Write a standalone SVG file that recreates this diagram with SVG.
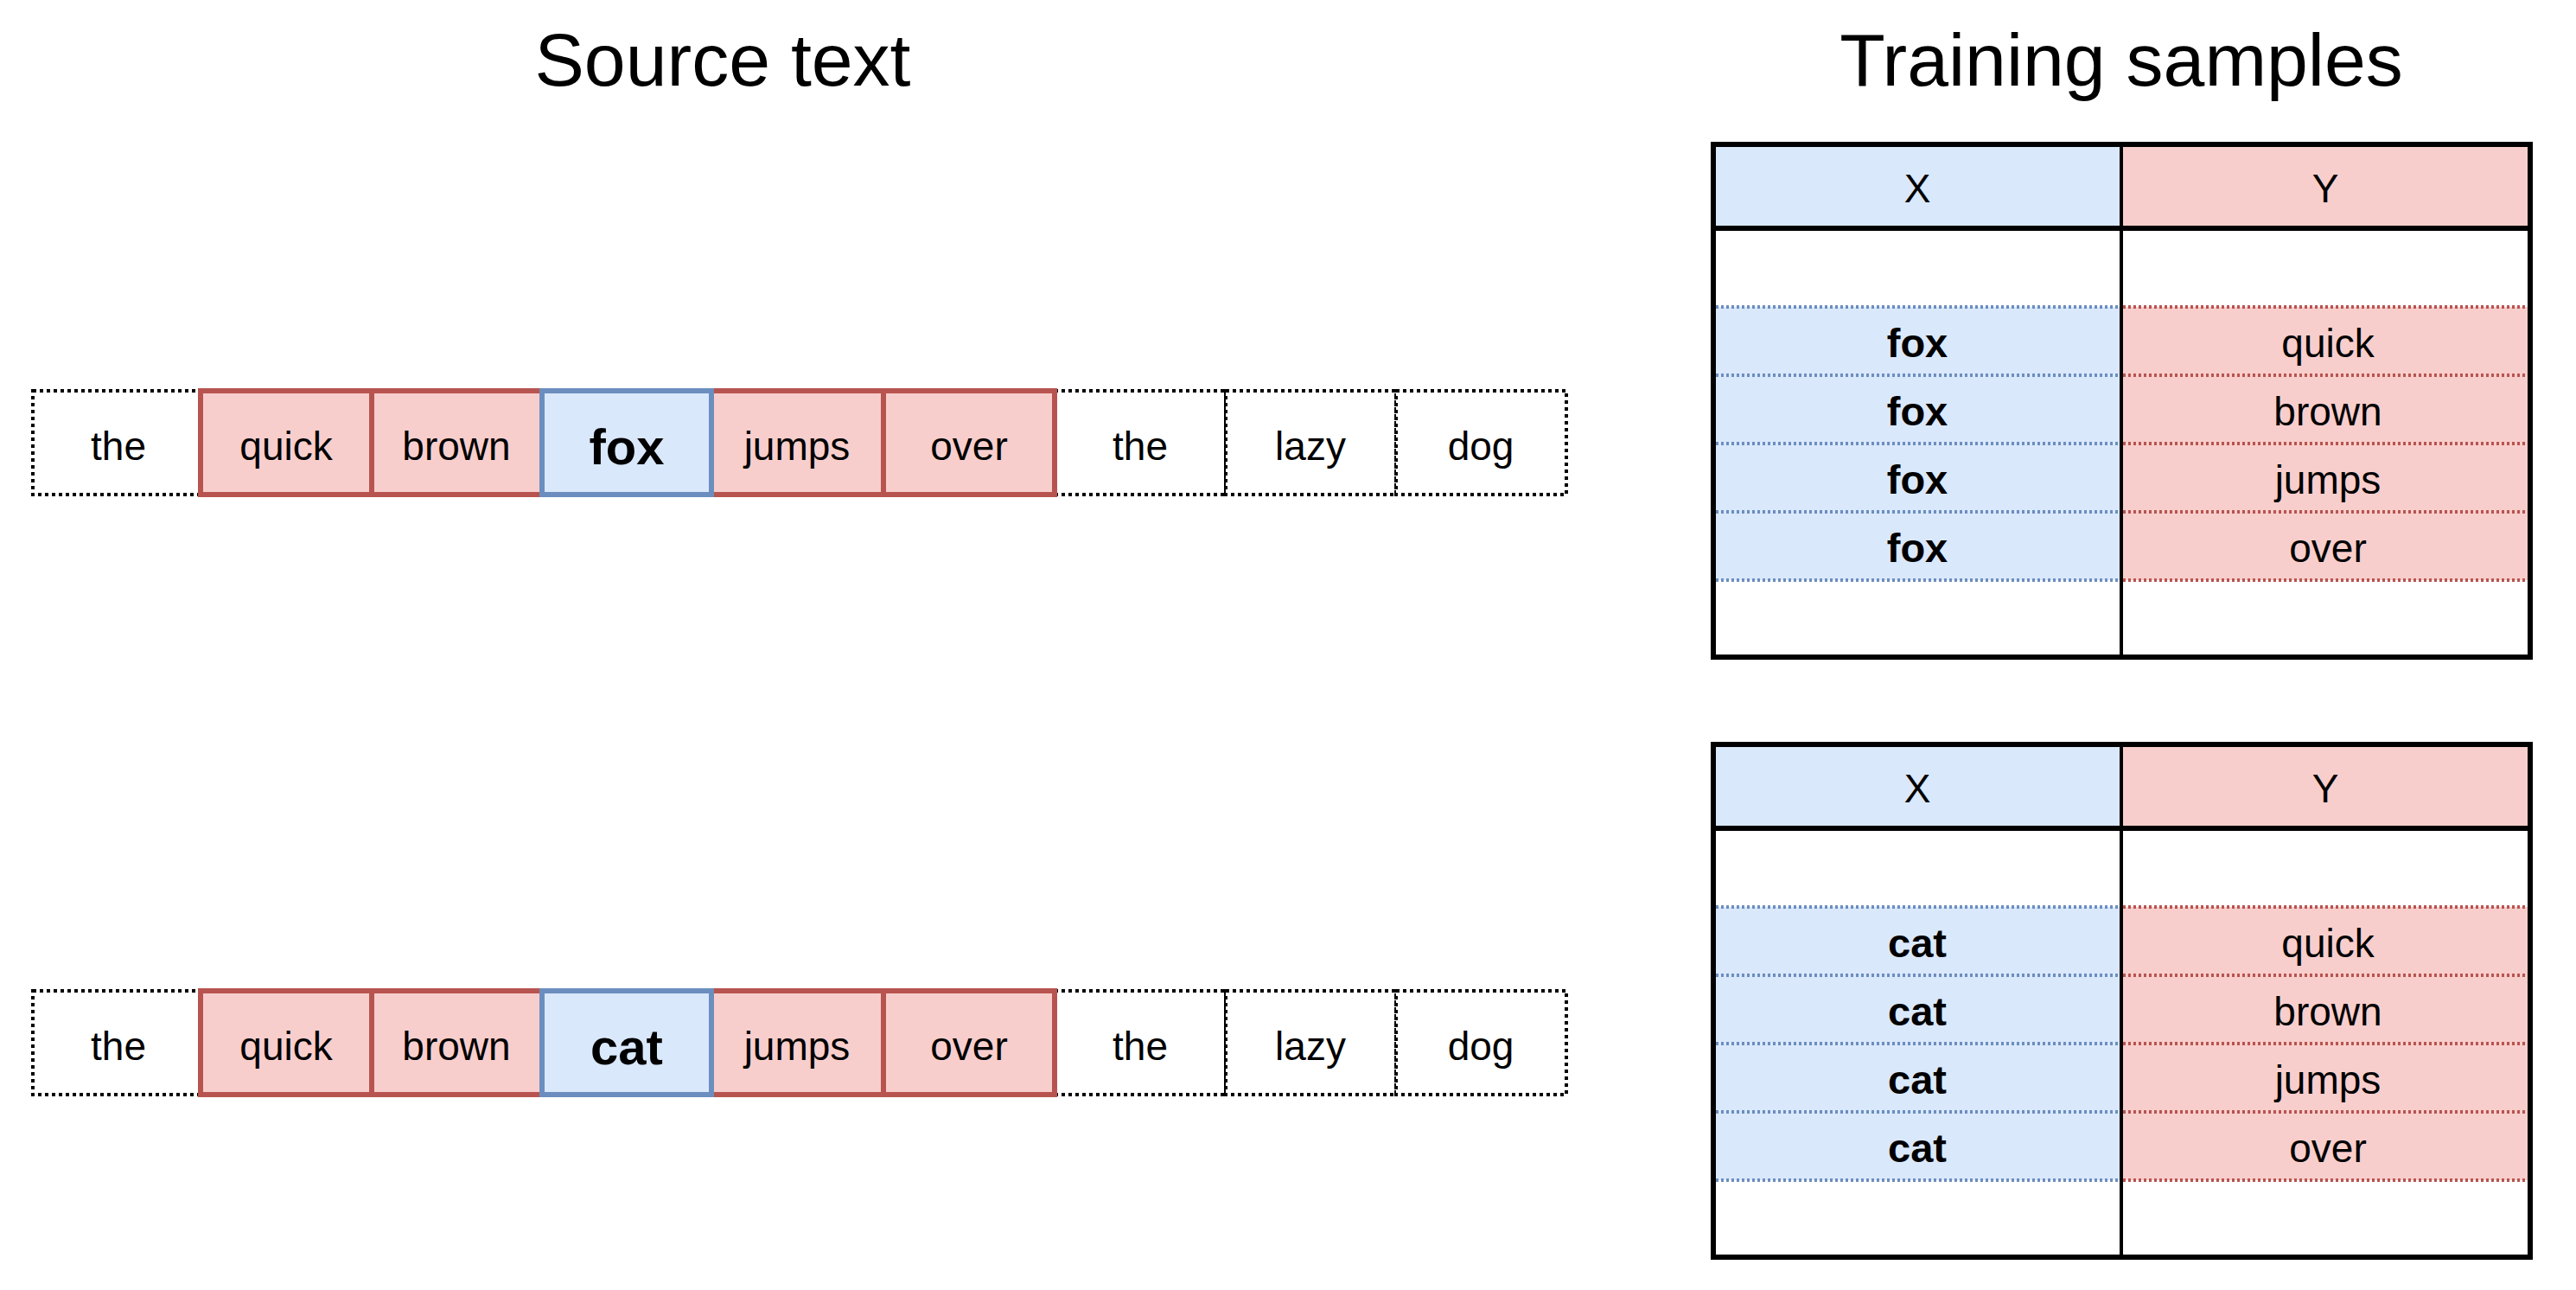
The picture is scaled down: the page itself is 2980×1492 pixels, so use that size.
<svg xmlns="http://www.w3.org/2000/svg" width="2980" height="1492" viewBox="0 0 2980 1492">
<style>
text{font-family:"Liberation Sans",Arial,Helvetica,sans-serif;fill:#000;text-anchor:middle}
.t{font-size:86px}
.w{font-size:46px}
.b{font-size:58px;font-weight:bold}
.tb{font-size:47px;font-weight:bold}
.plain{fill:#fff;stroke:#000;stroke-width:4;stroke-dasharray:4 4}
.red{fill:#f8cecc;stroke:#b85450;stroke-width:6}
.blue{fill:#dae8fc;stroke:#6c8ebf;stroke-width:6}
.fb{fill:#dae8fc}
.fr{fill:#f8cecc}
.db{stroke:#6c8ebf;stroke-width:4;stroke-dasharray:3 3;fill:none}
.dr{stroke:#b85450;stroke-width:4;stroke-dasharray:3 3;fill:none}
.bd{fill:none;stroke:#000;stroke-width:6}
.mid{stroke:#000;stroke-width:4}
</style>
<rect width="2980" height="1492" fill="#fff"/>
<g id="titles">
<text class="t" x="836" y="99">Source text</text>
<text class="t" x="2454" y="99">Training samples</text>
</g>
<g id="sentence1">
<rect class="plain" x="38" y="452" width="197" height="120"/>
<rect class="plain" x="1220" y="452" width="198" height="120"/>
<rect class="plain" x="1418" y="452" width="197" height="120"/>
<rect class="plain" x="1615" y="452" width="197" height="120"/>
<rect class="red" x="232" y="452" width="198" height="120"/>
<rect class="red" x="430" y="452" width="197" height="120"/>
<rect class="red" x="823" y="452" width="199" height="120"/>
<rect class="red" x="1022" y="452" width="198" height="120"/>
<rect class="blue" x="627" y="452" width="196" height="120"/>
<text class="w" x="137" y="532">the</text>
<text class="w" x="331" y="532">quick</text>
<text class="w" x="528" y="532">brown</text>
<text class="b" x="725" y="537">fox</text>
<text class="w" x="922" y="532">jumps</text>
<text class="w" x="1121" y="532">over</text>
<text class="w" x="1319" y="532">the</text>
<text class="w" x="1516" y="532">lazy</text>
<text class="w" x="1713" y="532">dog</text>
</g>
<g id="sentence2">
<rect class="plain" x="38" y="1146" width="197" height="120"/>
<rect class="plain" x="1220" y="1146" width="198" height="120"/>
<rect class="plain" x="1418" y="1146" width="197" height="120"/>
<rect class="plain" x="1615" y="1146" width="197" height="120"/>
<rect class="red" x="232" y="1146" width="198" height="120"/>
<rect class="red" x="430" y="1146" width="197" height="120"/>
<rect class="red" x="823" y="1146" width="199" height="120"/>
<rect class="red" x="1022" y="1146" width="198" height="120"/>
<rect class="blue" x="627" y="1146" width="196" height="120"/>
<text class="w" x="137" y="1226">the</text>
<text class="w" x="331" y="1226">quick</text>
<text class="w" x="528" y="1226">brown</text>
<text class="b" x="725" y="1231">cat</text>
<text class="w" x="922" y="1226">jumps</text>
<text class="w" x="1121" y="1226">over</text>
<text class="w" x="1319" y="1226">the</text>
<text class="w" x="1516" y="1226">lazy</text>
<text class="w" x="1713" y="1226">dog</text>
</g>
<g id="table1">
<rect x="1982" y="167" width="945" height="593" fill="#fff"/>
<rect class="fb" x="1982" y="167" width="472" height="97"/>
<rect class="fr" x="2454" y="167" width="473" height="97"/>
<rect class="fb" x="1982" y="355" width="472" height="316"/>
<rect class="fr" x="2454" y="355" width="473" height="316"/>
<path class="db" d="M1985 355H2452M1985 434H2452M1985 513H2452M1985 592H2452M1985 671H2452"/>
<path class="dr" d="M2456 355H2924M2456 434H2924M2456 513H2924M2456 592H2924M2456 671H2924"/>
<line class="mid" x1="2454" y1="167" x2="2454" y2="760"/>
<line class="bd" x1="1982" y1="264" x2="2927" y2="264"/>
<rect class="bd" x="1982" y="167" width="945" height="593"/>
<line x1="1979" y1="761" x2="2930" y2="761" stroke="#000" stroke-width="4"/>
<text class="w" x="2218" y="234">X</text>
<text class="w" x="2690" y="234">Y</text>
<text class="tb" x="2218" y="413">fox</text>
<text class="tb" x="2218" y="492">fox</text>
<text class="tb" x="2218" y="571">fox</text>
<text class="tb" x="2218" y="650">fox</text>
<text class="w" x="2693" y="413">quick</text>
<text class="w" x="2693" y="492">brown</text>
<text class="w" x="2693" y="571">jumps</text>
<text class="w" x="2693" y="650">over</text>
</g>
<g id="table2">
<rect x="1982" y="861" width="945" height="593" fill="#fff"/>
<rect class="fb" x="1982" y="861" width="472" height="97"/>
<rect class="fr" x="2454" y="861" width="473" height="97"/>
<rect class="fb" x="1982" y="1049" width="472" height="316"/>
<rect class="fr" x="2454" y="1049" width="473" height="316"/>
<path class="db" d="M1985 1049H2452M1985 1128H2452M1985 1207H2452M1985 1286H2452M1985 1365H2452"/>
<path class="dr" d="M2456 1049H2924M2456 1128H2924M2456 1207H2924M2456 1286H2924M2456 1365H2924"/>
<line class="mid" x1="2454" y1="861" x2="2454" y2="1454"/>
<line class="bd" x1="1982" y1="958" x2="2927" y2="958"/>
<rect class="bd" x="1982" y="861" width="945" height="593"/>
<line x1="1979" y1="1455" x2="2930" y2="1455" stroke="#000" stroke-width="4"/>
<text class="w" x="2218" y="928">X</text>
<text class="w" x="2690" y="928">Y</text>
<text class="tb" x="2218" y="1107">cat</text>
<text class="tb" x="2218" y="1186">cat</text>
<text class="tb" x="2218" y="1265">cat</text>
<text class="tb" x="2218" y="1344">cat</text>
<text class="w" x="2693" y="1107">quick</text>
<text class="w" x="2693" y="1186">brown</text>
<text class="w" x="2693" y="1265">jumps</text>
<text class="w" x="2693" y="1344">over</text>
</g>
<g id="connectors"/>
</svg>
